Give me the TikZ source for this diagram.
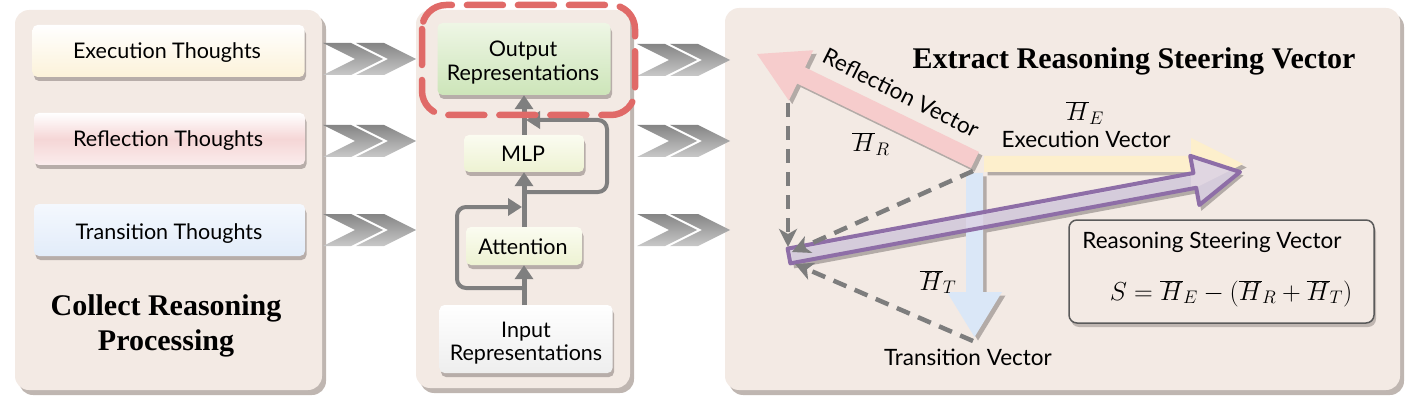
\RequirePackage{fix-cm}
\documentclass[tikz,border=0pt]{standalone}
\usepackage{fontspec}
\newfontfamily\cs{Lato}
\newfontfamily\tm{Liberation Serif}
\usetikzlibrary{arrows.meta,calc,shadows}
\definecolor{panelbg}{HTML}{F3EAE4}
\definecolor{pshadow}{HTML}{BFB6B1}
\definecolor{boxsh}{HTML}{B7ADA9}
\definecolor{exeY}{HTML}{FCF2D9}
\definecolor{refP}{HTML}{F5D6D6}
\definecolor{traT}{HTML}{F4F8FE}
\definecolor{traB}{HTML}{E2ECF9}
\definecolor{outT}{HTML}{EEF6E5}
\definecolor{outB}{HTML}{CDE5B9}
\definecolor{mlpT}{HTML}{FBFCF1}
\definecolor{mlpB}{HTML}{EDF2D2}
\definecolor{inpB}{HTML}{EEEEEE}
\definecolor{flowgray}{HTML}{7F7F7F}
\definecolor{redd}{HTML}{E06A68}
\definecolor{pinkv}{HTML}{F6CCCC}
\definecolor{yelv}{HTML}{FDEFCC}
\definecolor{bluv}{HTML}{DAE7F7}
\definecolor{purf}{HTML}{DCD2E5}
\definecolor{purd}{HTML}{8E6EA7}
\definecolor{dgray}{HTML}{7D7D7D}
\definecolor{sbd}{HTML}{5A5A5A}
\definecolor{chevD}{HTML}{858585}
\definecolor{chevL}{HTML}{C8C8C8}
\definecolor{vsh}{HTML}{B3ABA7}
\newcommand{\fatarrow}[6]{%
  \coordinate (fahb) at ($#2!#5!#1$);
  \path[#6] ($#1!#3!90:#2$) -- ($(fahb)!#3!90:#2$) -- ($(fahb)!#4!90:#2$) -- #2 -- ($(fahb)!#4!-90:#2$) -- ($(fahb)!#3!-90:#2$) -- ($#1!#3!-90:#2$) -- cycle;}
\newcommand{\chev}[2]{%
  \foreach \dx in {0,33}{
    \path[top color=chevD, bottom color=chevL] ({#1+\dx},{#2-16}) -- ({#1+\dx+28},{#2-16}) -- ({#1+\dx+60},#2) -- ({#1+\dx+28},{#2+16}) -- ({#1+\dx},{#2+16}) -- ({#1+\dx+32},#2) -- cycle;}}
\begin{document}
\begin{tikzpicture}[x=1pt,y=-1pt,
  panel/.style={fill=panelbg, rounded corners=14pt, drop shadow={shadow xshift=4pt, shadow yshift=-5pt, fill=pshadow, opacity=1}},
  box/.style={rounded corners=5pt, inner sep=0pt, drop shadow={shadow xshift=1.5pt, shadow yshift=-4pt, fill=boxsh, opacity=1}},
  lbl/.style={font=\cs\fontsize{21.5}{24}\selectfont, inner sep=0pt},
  rlbl/.style={font=\cs\fontsize{22.5}{26}\selectfont, inner sep=0pt},
  ttl/.style={font=\tm\bfseries\fontsize{30}{34}\selectfont, inner sep=0pt},
  mth/.style={font=\fontsize{26}{30}\selectfont, inner sep=0pt},
  flow/.style={draw=flowgray, line width=5pt, -{Triangle[length=14pt,width=18pt]}},
  res/.style={draw=flowgray, line width=4pt, rounded corners=9pt, -{Triangle[length=14pt,width=17pt]}},
  dsh/.style={draw=dgray, line width=4.5pt, dash pattern=on 14pt off 9pt, -{Stealth[length=18pt,width=18pt,inset=5pt]}},
  stbox/.style={draw=sbd, line width=1.5pt, fill=panelbg, rounded corners=8pt, inner sep=0pt, drop shadow={shadow xshift=2pt, shadow yshift=-4pt, fill=pshadow, opacity=1}}
]
\useasboundingbox (0,0) rectangle (1414,401);
% panels
\path[panel] (15,10) rectangle (322,390);
\path[panel] (416,10) rectangle (630,388);
\path[panel] (725,8) rectangle (1400,390);
% left boxes
\node[box, top color=white, bottom color=exeY, minimum width=272pt, minimum height=52pt] (exe) at (168.5,51) {};
\node[lbl, anchor=base] (exeT) at (167,59) {Execution Thoughts};
\node[box, top color=white, bottom color=refP!45!white, middle color=refP, minimum width=271pt, minimum height=52pt] (ref) at (169.5,139) {};
\node[lbl, anchor=base] (refT) at (168,147) {Reflection Thoughts};
\node[box, top color=traT, bottom color=traB, minimum width=271pt, minimum height=52pt] (tra) at (169.5,230) {};
\node[lbl, anchor=base] (traT) at (169,239) {Transition Thoughts};
\node[ttl, anchor=base] (c1) at (166,315) {Collect Reasoning};
\node[ttl, anchor=base] (c2) at (166,350) {Processing};
% chevrons
\chev{323}{59}
\chev{323}{141}
\chev{323}{230}
\chev{637}{60}
\chev{637}{141}
\chev{637}{230}
% middle
\node[box, top color=outT, bottom color=outB, minimum width=173pt, minimum height=72pt] (out) at (524,59) {};
\node[lbl, anchor=base] (outT1) at (523,57) {Output};
\node[lbl, anchor=base] (outT2) at (523,81) {Representations};
\node[box, top color=mlpT, bottom color=mlpB, minimum width=120pt, minimum height=37pt] (mlp) at (524,153.5) {};
\node[lbl, anchor=base] (mlpT) at (523,162) {MLP};
\node[box, top color=mlpT, bottom color=mlpB, minimum width=116pt, minimum height=38pt] (att) at (524,246) {};
\node[lbl, anchor=base] (attT) at (523,254) {Attention};
\node[box, top color=white, bottom color=inpB, minimum width=173pt, minimum height=68pt] (inp) at (526,339) {};
\node[lbl, anchor=base] (inpT1) at (526,337) {Input};
\node[lbl, anchor=base] (inpT2) at (526,360) {Representations};
\coordinate (m1) at (524,305);
\coordinate (m2) at (524,227);
\coordinate (m3) at (524,135);
\draw[flow] (m1) -- (att.south);
\draw[flow] (m2) -- (mlp.south);
\draw[flow] (m3) -- (out.south);
\coordinate (r1a) at (524,288);
\coordinate (r1b) at (457,288);
\coordinate (r1c) at (457,207);
\coordinate (r1t) at (522,207);
\draw[res] (r1a) -- (r1b) -- (r1c) -- (r1t);
\coordinate (r2a) at (524,192);
\coordinate (r2b) at (607,192);
\coordinate (r2c) at (607,120);
\coordinate (r2t) at (526,120);
\draw[res] (r2a) -- (r2b) -- (r2c) -- (r2t);
\draw[draw=redd, line width=6.5pt, dash pattern=on 36pt off 15pt, line cap=round, rounded corners=24pt] (422,5) rectangle (635,115);
% right panel
\node[ttl, anchor=base] (t2) at (1134,69) {Extract Reasoning Steering Vector};
\coordinate (oR) at (975,160);
\coordinate (tR) at (757,54);
\coordinate (oE) at (984,164);
\coordinate (tE) at (1243,164);
\coordinate (oT) at (974.5,173);
\coordinate (tT) at (974.5,337);
\coordinate (p0) at (789,256);
\coordinate (p1) at (1240,172);
\begin{scope}[transform canvas={shift={(3.5,3.5)}}]
\fatarrow{(oR)}{(tR)}{9pt}{28pt}{49pt}{fill=vsh}
\fatarrow{(oE)}{(tE)}{8pt}{26pt}{52pt}{fill=vsh}
\fatarrow{(oT)}{(tT)}{8.5pt}{27.5pt}{45pt}{fill=vsh}
\fatarrow{(p0)}{(p1)}{9pt}{27pt}{48pt}{fill=vsh}
\end{scope}
\fatarrow{(oR)}{(tR)}{9pt}{28pt}{49pt}{fill=pinkv}
\fatarrow{(oE)}{(tE)}{8pt}{26pt}{52pt}{fill=yelv}
\fatarrow{(oT)}{(tT)}{8.5pt}{27.5pt}{45pt}{fill=bluv}
\fatarrow{(p0)}{(p1)}{7.5pt}{25pt}{46pt}{fill=purf, fill opacity=0.85, draw=purd, line width=4pt, line join=round}
\coordinate (d1s) at (788,103);
\coordinate (d1e) at (788,247);
\coordinate (d2s) at (973,171);
\coordinate (d2e) at (792,252);
\coordinate (d3s) at (973,341);
\coordinate (d3e) at (795,264);
\draw[dsh] (d1s) -- (d1e);
\draw[dsh] (d2s) -- (d2e);
\draw[dsh] (d3s) -- (d3e);
\node[rlbl, rotate=-26.6] (rv) at (901,93) {Reflection Vector};
\node[mth, anchor=base] (hr) at (871,152) {$\overline{H}_R$};
\node[mth, anchor=base] (he) at (1085,121) {$\overline{H}_E$};
\node[rlbl, anchor=base] (ev) at (1086,148) {Execution Vector};
\node[mth, anchor=base] (ht) at (938,290) {$\overline{H}_T$};
\node[rlbl, anchor=base] (tv) at (968,365) {Transition Vector};
\node[stbox, minimum width=305pt, minimum height=103pt] (sb) at (1221.5,271.5) {};
\node[rlbl, anchor=base] (sbT) at (1212,248) {Reasoning Steering Vector};
\node[mth, anchor=base] (fm) at (1231,300) {$S=\overline{H}_E-(\overline{H}_R+\overline{H}_T)$};
\end{tikzpicture}
\end{document}
